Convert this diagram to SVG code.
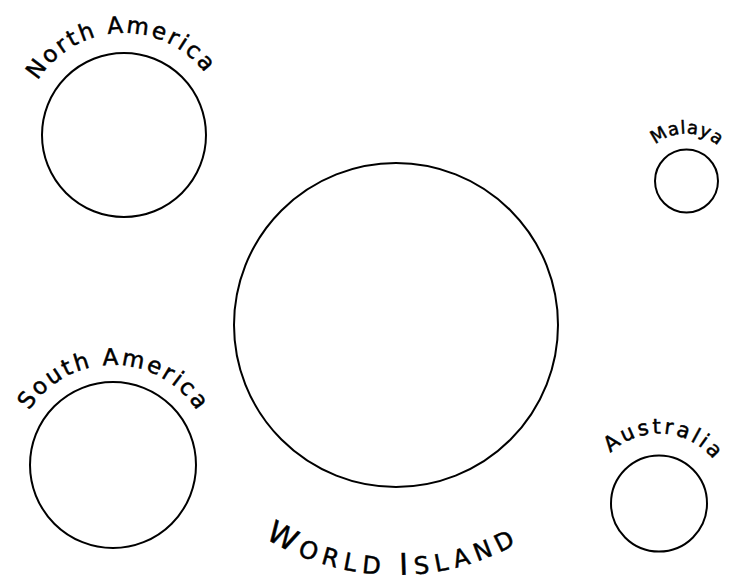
<svg xmlns="http://www.w3.org/2000/svg" width="729" height="575" viewBox="0 0 729 575">
<style>
.land{fill:none;stroke:#000;stroke-width:2}
.lbl{font-family:"DejaVu Sans",sans-serif;fill:#000;stroke:#000;stroke-width:0.5}
</style>
<defs>
<path id="pNA" d="M22,135 A102,102 0 0 1 226,135"/>
<path id="pMA" d="M638.5,181 A47,47 0 0 1 733.5,181"/>
<path id="pAU" d="M589,503.5 A70,70 0 0 1 729,503.5"/>
<path id="pSA" d="M13,465 A100,100 0 0 1 213,465"/>
<path id="pWI" d="M146,325 A250,250 0 0 0 646,325"/>
</defs>
<rect width="729" height="575" fill="#fff"/>
<g id="north-america">
<circle class="land" cx="124" cy="135" r="82"/>
<text class="lbl" font-size="23"><textPath href="#pNA" startOffset="48.5%" text-anchor="middle" textLength="196" lengthAdjust="spacing">North America</textPath></text>
</g>
<g id="malaya">
<circle class="land" cx="686.5" cy="181" r="31.5"/>
<text class="lbl" font-size="18"><textPath href="#pMA" startOffset="50.5%" text-anchor="middle" textLength="68" lengthAdjust="spacing">Malaya</textPath></text>
</g>
<g id="world-island">
<circle class="land" cx="396" cy="325" r="162"/>
<text class="lbl" font-size="24"><textPath href="#pWI" startOffset="49.2%" text-anchor="middle" textLength="263" lengthAdjust="spacing"><tspan font-size="30">W</tspan>ORLD <tspan font-size="30">I</tspan>SLAND</textPath></text>
</g>
<g id="south-america">
<circle class="land" cx="113" cy="465" r="83"/>
<text class="lbl" font-size="23"><textPath href="#pSA" startOffset="50%" text-anchor="middle" textLength="199" lengthAdjust="spacing">South America</textPath></text>
</g>
<g id="australia">
<circle class="land" cx="659" cy="503.5" r="48"/>
<text class="lbl" font-size="21"><textPath href="#pAU" startOffset="52%" text-anchor="middle" textLength="116" lengthAdjust="spacing">Australia</textPath></text>
</g>
<g id="connectors"/>
</svg>
